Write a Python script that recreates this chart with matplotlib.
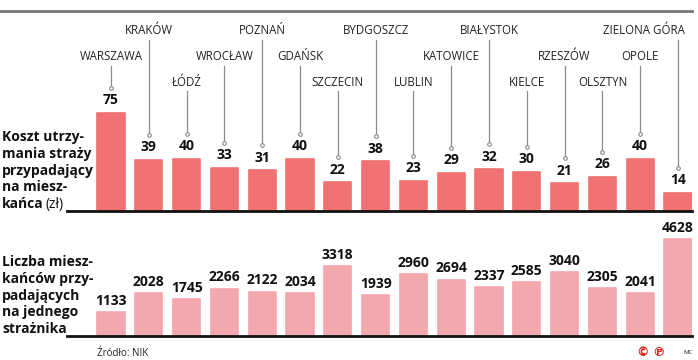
import matplotlib
matplotlib.use('Agg')
import matplotlib.pyplot as plt

W, H = 698, 360

cities = ['WARSZAWA', 'KRAKÓW', 'ŁÓDŹ', 'WROCŁAW', 'POZNAŃ', 'GDAŃSK', 'SZCZECIN',
          'BYDGOSZCZ', 'LUBLIN', 'KATOWICE', 'BIAŁYSTOK', 'KIELCE', 'RZESZÓW',
          'OLSZTYN', 'OPOLE', 'ZIELONA GÓRA']
cost = [75, 39, 40, 33, 31, 40, 22, 38, 23, 29, 32, 30, 21, 26, 40, 14]
residents = [1133, 2028, 1745, 2266, 2122, 2034, 3318, 1939, 2960, 2694, 2337,
             2585, 3040, 2305, 2041, 4628]
label_level = [2, 1, 3, 2, 1, 2, 3, 1, 3, 2, 1, 3, 2, 3, 2, 1]

TOP_C = '#F07272'
BOT_C = '#F2A8AE'
FONT = 'Open Sans'
plt.rcParams['font.family'] = [FONT, 'DejaVu Sans']

fig = plt.figure(figsize=(W / 100, H / 100), dpi=100)


def fx(px):
    return px / W


def fy(py):
    return 1 - py / H


# pixel layout
x_left, x_right = 67, 692
step, c0 = 37.8, 111
xl = ((x_left - c0) / step, (x_right - c0) / step)
top_base, bot_base = 211, 336
top_scale = 1.312        # px per zł
bot_scale = 0.02096      # px per resident

# ── top panel: cost per resident ──
ax1 = fig.add_axes([fx(x_left), fy(top_base), fx(x_right - x_left), top_base / H])
ax1.set_xlim(*xl)
ax1.set_ylim(0, top_base / top_scale)
xs = list(range(len(cities)))
ax1.bar(xs, cost, width=0.72, color=TOP_C, edgecolor=TOP_C, lw=1.2,
        joinstyle='round', zorder=2)

level_px = {1: 31, 2: 57, 3: 82}
last = len(cities) - 1
for i, (v, lev) in enumerate(zip(cost, label_level)):
    ax1.annotate(str(v), (i, v), xytext=(0, 9), textcoords='offset points',
                 ha='center', va='center', fontsize=10, fontweight='bold',
                 color='#111')
    y_lab = (top_base - level_px[lev]) / top_scale
    y_top = (top_base - level_px[lev] - 9) / top_scale
    y_dot = v + 25 / top_scale
    if i == last:
        # last label pulled left so it stays inside the frame
        ax1.text(i + 7 / step, y_lab, cities[i], ha='right', va='center',
                 fontsize=8.3, color='#222')
    else:
        ax1.text(i, y_lab, cities[i], ha='center', va='center', fontsize=8.3,
                 color='#222')
    ax1.plot([i, i], [y_dot, y_top], color='#8a8a8a', lw=0.9, zorder=1)
    ax1.plot(i, y_dot, 'o', ms=2.6, mfc='white', mec='#8a8a8a', mew=0.8, zorder=3)

for s in ['top', 'right', 'left']:
    ax1.spines[s].set_visible(False)
ax1.spines['bottom'].set_linewidth(2)
ax1.spines['bottom'].set_color('#111')
ax1.set_xticks([])
ax1.set_yticks([])
ax1.patch.set_alpha(0)

# ── bottom panel: residents per guard ──
ax2 = fig.add_axes([fx(x_left), fy(bot_base), fx(x_right - x_left), (bot_base - 222) / H])
ax2.set_xlim(*xl)
ax2.set_ylim(0, (bot_base - 222) / bot_scale)
ax2.bar(xs, residents, width=0.72, color=BOT_C, edgecolor=BOT_C, lw=1.2,
        joinstyle='round', zorder=2)
for i, v in enumerate(residents):
    ax2.annotate(str(v), (i, v), xytext=(0, 8), textcoords='offset points',
                 ha='center', va='center', fontsize=10, fontweight='bold',
                 color='#111')
for s in ['top', 'right', 'left']:
    ax2.spines[s].set_visible(False)
ax2.spines['bottom'].set_linewidth(2)
ax2.spines['bottom'].set_color('#111')
ax2.set_xticks([])
ax2.set_yticks([])
ax2.patch.set_alpha(0)

# ── left captions ──
lh = 16.7
top_lines = ['Koszt utrzy-', 'mania straży', 'przypadający', 'na miesz-']
for k, t in enumerate(top_lines):
    fig.text(fx(2), fy(top_base - 3 - lh * (4 - k)), t, fontsize=10,
             fontweight='bold', color='#111', va='baseline', ha='left')
t_last = fig.text(fx(2), fy(top_base - 3), 'kańca', fontsize=10,
                  fontweight='bold', color='#111', va='baseline', ha='left')
fig.canvas.draw()
bb = t_last.get_window_extent()
fig.text(bb.x1 / W + fx(2), fy(top_base - 3), '(zł)', fontsize=10,
         color='#111', va='baseline', ha='left')

bot_lines = ['Liczba miesz-', 'kańców przy-', 'padających', 'na jednego', 'strażnika']
for k, t in enumerate(bot_lines):
    fig.text(fx(2), fy(bot_base - 3 - lh * (4 - k)), t, fontsize=10,
             fontweight='bold', color='#111', va='baseline', ha='left')

# top rule
fig.add_artist(plt.Line2D([0, fx(692)], [fy(11), fy(11)], color='#777', lw=2))

# footer
fig.text(fx(97), fy(354), 'Źródło: NIK', fontsize=7, color='#222',
         va='center', ha='left')
fig.text(fx(643), fy(353), '©', fontsize=9, fontweight='bold', color='#E0201B',
         va='center', ha='center', family=['DejaVu Sans'])
fig.text(fx(659), fy(353), '℗', fontsize=9, fontweight='bold', color='#E0201B',
         va='center', ha='center', family=['DejaVu Sans'])
fig.text(fx(688), fy(353), 'MC', fontsize=4.5, color='#222', va='center', ha='center')

fig.savefig('out.png', dpi=100, facecolor='white')
